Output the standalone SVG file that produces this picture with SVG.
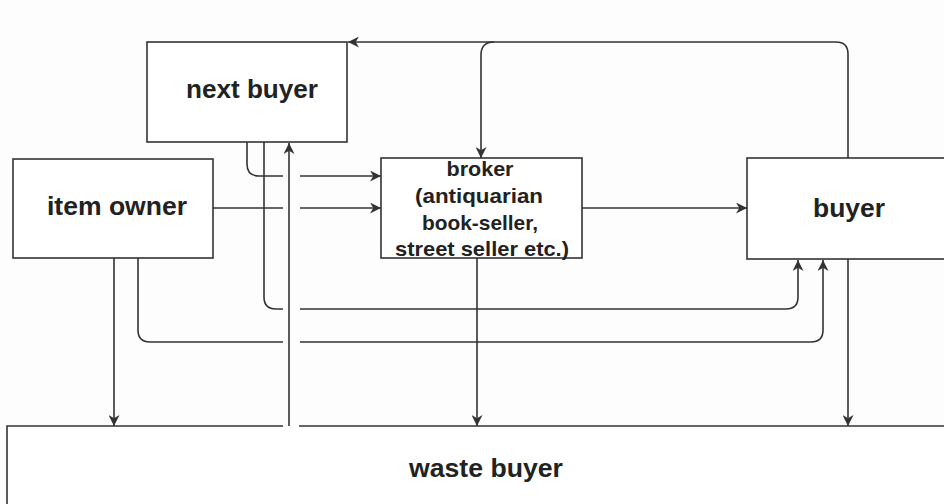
<svg xmlns="http://www.w3.org/2000/svg" width="944" height="504" viewBox="0 0 944 504">
<defs>
<style>
.box{fill:#ffffff;stroke:#333333;stroke-width:1.6}
.ln{fill:none;stroke:#333333;stroke-width:1.6}
.lbl{font-family:"Liberation Sans",Arial,sans-serif;font-weight:bold;font-size:26px;fill:#222222;text-anchor:middle}
.brk{font-family:"Liberation Sans",Arial,sans-serif;font-weight:bold;font-size:21px;fill:#222222;text-anchor:middle}
</style>
<marker id="arr" viewBox="0 0 10 10" refX="10" refY="5" markerWidth="11" markerHeight="11" markerUnits="userSpaceOnUse" orient="auto">
<path d="M0,0 L10,5 L0,10 L3,5 z" fill="#333333"/>
</marker>
</defs>
<rect x="0" y="0" width="944" height="504" fill="#fdfdfd"/>

<g id="waste-buyer">
<rect x="7" y="426" width="950" height="100" fill="#ffffff" stroke="none"/>
<path class="ln" d="M7,506 L7,426 L283,426 M299,426 L946,426"/>
<text class="lbl" x="486" y="477" textLength="154" lengthAdjust="spacingAndGlyphs">waste buyer</text>
</g>

<g id="next-buyer">
<rect class="box" x="147" y="42" width="200" height="100"/>
<text class="lbl" x="252" y="98" textLength="132" lengthAdjust="spacingAndGlyphs">next buyer</text>
</g>

<g id="item-owner">
<rect class="box" x="13" y="159" width="200" height="99"/>
<text class="lbl" x="117" y="215" textLength="140" lengthAdjust="spacingAndGlyphs">item owner</text>
</g>

<g id="broker">
<rect class="box" x="381" y="158" width="201" height="100"/>
<text class="brk" x="480" y="176" textLength="67" lengthAdjust="spacingAndGlyphs">broker</text>
<text class="brk" x="479" y="203" textLength="128" lengthAdjust="spacingAndGlyphs">(antiquarian</text>
<text class="brk" x="480" y="230" textLength="116" lengthAdjust="spacingAndGlyphs">book-seller,</text>
<text class="brk" x="482" y="256" textLength="174" lengthAdjust="spacingAndGlyphs">street seller etc.)</text>
</g>

<g id="buyer">
<rect class="box" x="747" y="158" width="210" height="101"/>
<text class="lbl" x="849" y="217" textLength="72" lengthAdjust="spacingAndGlyphs">buyer</text>
</g>

<g id="connectors">
<!-- buyer to next buyer over the top -->
<path class="ln" d="M848,158 L848,54 Q848,42 836,42 L348,42" marker-end="url(#arr)"/>
<!-- branch down to broker -->
<path class="ln" d="M494,42 Q481,42 481,55 L481,158" marker-end="url(#arr)"/>
<!-- next buyer to broker -->
<path class="ln" d="M247,142 L247,164 Q247,176 259,176 L283,176"/>
<path class="ln" d="M300,176 L381,176" marker-end="url(#arr)"/>
<!-- item owner to broker -->
<path class="ln" d="M213,208 L283,208"/>
<path class="ln" d="M300,208 L381,208" marker-end="url(#arr)"/>
<!-- broker to buyer -->
<path class="ln" d="M582,208 L747,208" marker-end="url(#arr)"/>
<!-- next buyer to buyer -->
<path class="ln" d="M264,142 L264,297 Q264,309 276,309 L283,309"/>
<path class="ln" d="M300,309 L786,309 Q798,309 798,297 L798,260" marker-end="url(#arr)"/>
<!-- item owner to buyer -->
<path class="ln" d="M138,258 L138,330 Q138,342 150,342 L283,342"/>
<path class="ln" d="M300,342 L811,342 Q823,342 823,330 L823,260" marker-end="url(#arr)"/>
<!-- to waste buyer -->
<path class="ln" d="M114,258 L114,426" marker-end="url(#arr)"/>
<path class="ln" d="M477,258 L477,426" marker-end="url(#arr)"/>
<path class="ln" d="M848,259 L848,426" marker-end="url(#arr)"/>
<!-- waste buyer to next buyer -->
<path class="ln" d="M289,426 L289,143" marker-end="url(#arr)"/>
</g>
</svg>
